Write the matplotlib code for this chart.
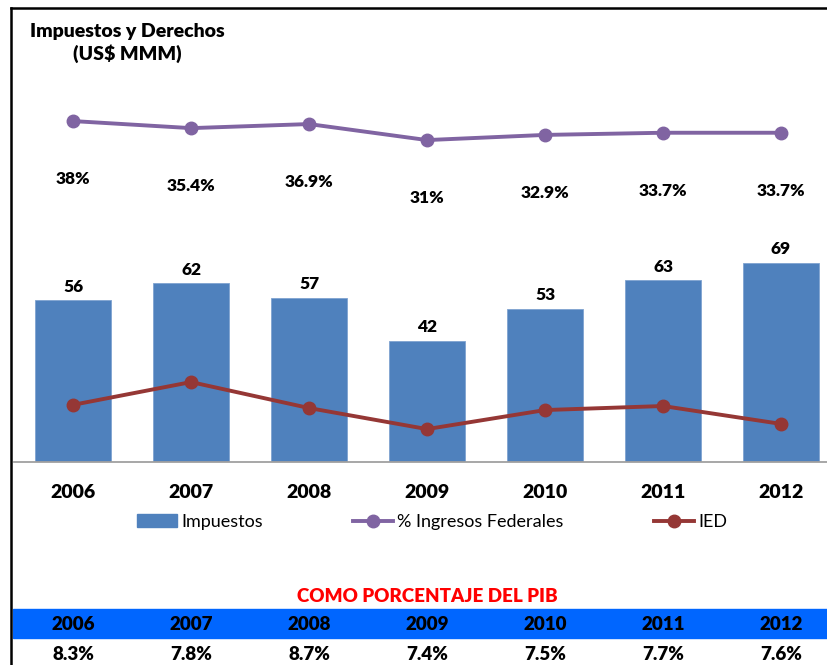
import numpy as np
import matplotlib.pyplot as plt
from matplotlib.lines import Line2D
from matplotlib.patches import Rectangle, Patch
import matplotlib.transforms as mtransforms

plt.rcParams['font.family'] = ['Lato', 'DejaVu Sans']

### data ###
years = ['2006', '2007', '2008', '2009', '2010', '2011', '2012']
impuestos = [56, 62, 57, 42, 53, 63, 69]                 # US$ MMM
ingresos_pct = [38, 35.4, 36.9, 31, 32.9, 33.7, 33.7]    # % Ingresos Federales
ied = [19.8, 27.7, 18.7, 11.4, 18.0, 19.4, 13.2]         # IED (no labels)
pib_pct = [8.3, 7.8, 8.7, 7.4, 7.5, 7.7, 7.6]            # como porcentaje del PIB

BLUE = '#4F81BD'
PURPLE = '#8064A2'
RED = '#953735'
BOLD = 'heavy'
W, H = 827, 665

fig = plt.figure(figsize=(W / 100, H / 100), dpi=100)

# main axes: baseline at y=462px, top at 60px, x from 14px (7 cats, 118px each)
ax = fig.add_axes([14 / W, 1 - 462 / H, 826 / W, (462 - 60) / H])
x = np.arange(len(years))
ax.bar(x, impuestos, width=0.644, color=BLUE, edgecolor='#7FA3D0', linewidth=0.6, zorder=2)
ax.set_xlim(-0.5, 6.5)
ax.set_ylim(0, 139.3)
for xi, v in zip(x, impuestos):
    ax.annotate(f"{v}", (xi, v), xytext=(0, 4), textcoords='offset points',
                ha='center', va='bottom', fontsize=12.5, fontweight=BOLD)
ax.plot(x, ied, color=RED, lw=2.8, marker='o', ms=9, zorder=3)

ax.set_xticks(x)
ax.set_xticklabels(years, fontsize=14, fontweight=BOLD)
ax.tick_params(axis='x', length=0, pad=16)
ax.set_yticks([])
for s in ['top', 'right', 'left']:
    ax.spines[s].set_visible(False)
ax.spines['bottom'].set_color('#A0A0A0')
ax.spines['bottom'].set_linewidth(1.3)

# secondary axis for % Ingresos Federales
ax2 = ax.twinx()
ax2.set_ylim(-87.6, 60.5)
ax2.plot(x, ingresos_pct, color=PURPLE, lw=2.8, marker='o', ms=9, zorder=3)
for xi, v in zip(x, ingresos_pct):
    ax2.annotate(f"{v:g}%", (xi, v), xytext=(0, -42), textcoords='offset points',
                 ha='center', va='center', fontsize=12.5, fontweight=BOLD)
ax2.axis('off')

# legend
handles = [Patch(color=BLUE),
           Line2D([], [], color=PURPLE, lw=2.8, marker='o', ms=9),
           Line2D([], [], color=RED, lw=2.8, marker='o', ms=9)]
fig.legend(handles, ['Impuestos', '% Ingresos Federales', 'IED'], loc='center',
           bbox_to_anchor=(432 / W, 1 - 522 / H), ncol=3, frameon=False,
           fontsize=13, columnspacing=5.0, handlelength=2.2, handletextpad=0.25)

# title
fig.text(127 / W, 1 - 43 / H, "Impuestos y Derechos\n(US$ MMM)", ha='center', va='center',
         fontsize=14, fontweight=BOLD, linespacing=1.3)

# frame (left and top borders)
fig.add_artist(Line2D([11 / W, 11 / W], [0, 1 - 8 / H], color='black', lw=1.8,
                      transform=fig.transFigure))
fig.add_artist(Line2D([11 / W, 1], [1 - 8 / H, 1 - 8 / H], color='black', lw=1.8,
                      transform=fig.transFigure))

# bottom table
trans = mtransforms.blended_transform_factory(ax.transData, fig.transFigure)
fig.text(3, 1 - 596 / H, "COMO PORCENTAJE DEL PIB", transform=trans, ha='center',
         va='center', color='#FF0000', fontsize=13.5, fontweight=BOLD)
fig.add_artist(Rectangle((13 / W, 1 - 638 / H), 1, 29 / H, color='#0066FF',
                         transform=fig.transFigure, zorder=0))
for xi, y, v in zip(x, years, pib_pct):
    fig.text(xi, 1 - 625 / H, y, transform=trans, ha='center', va='center',
             fontsize=13.5, fontweight=BOLD)
    fig.text(xi, 1 - 655 / H, f"{v}%", transform=trans, ha='center', va='center',
             fontsize=13.5, fontweight=BOLD)

fig.savefig('out.png', dpi=100)
